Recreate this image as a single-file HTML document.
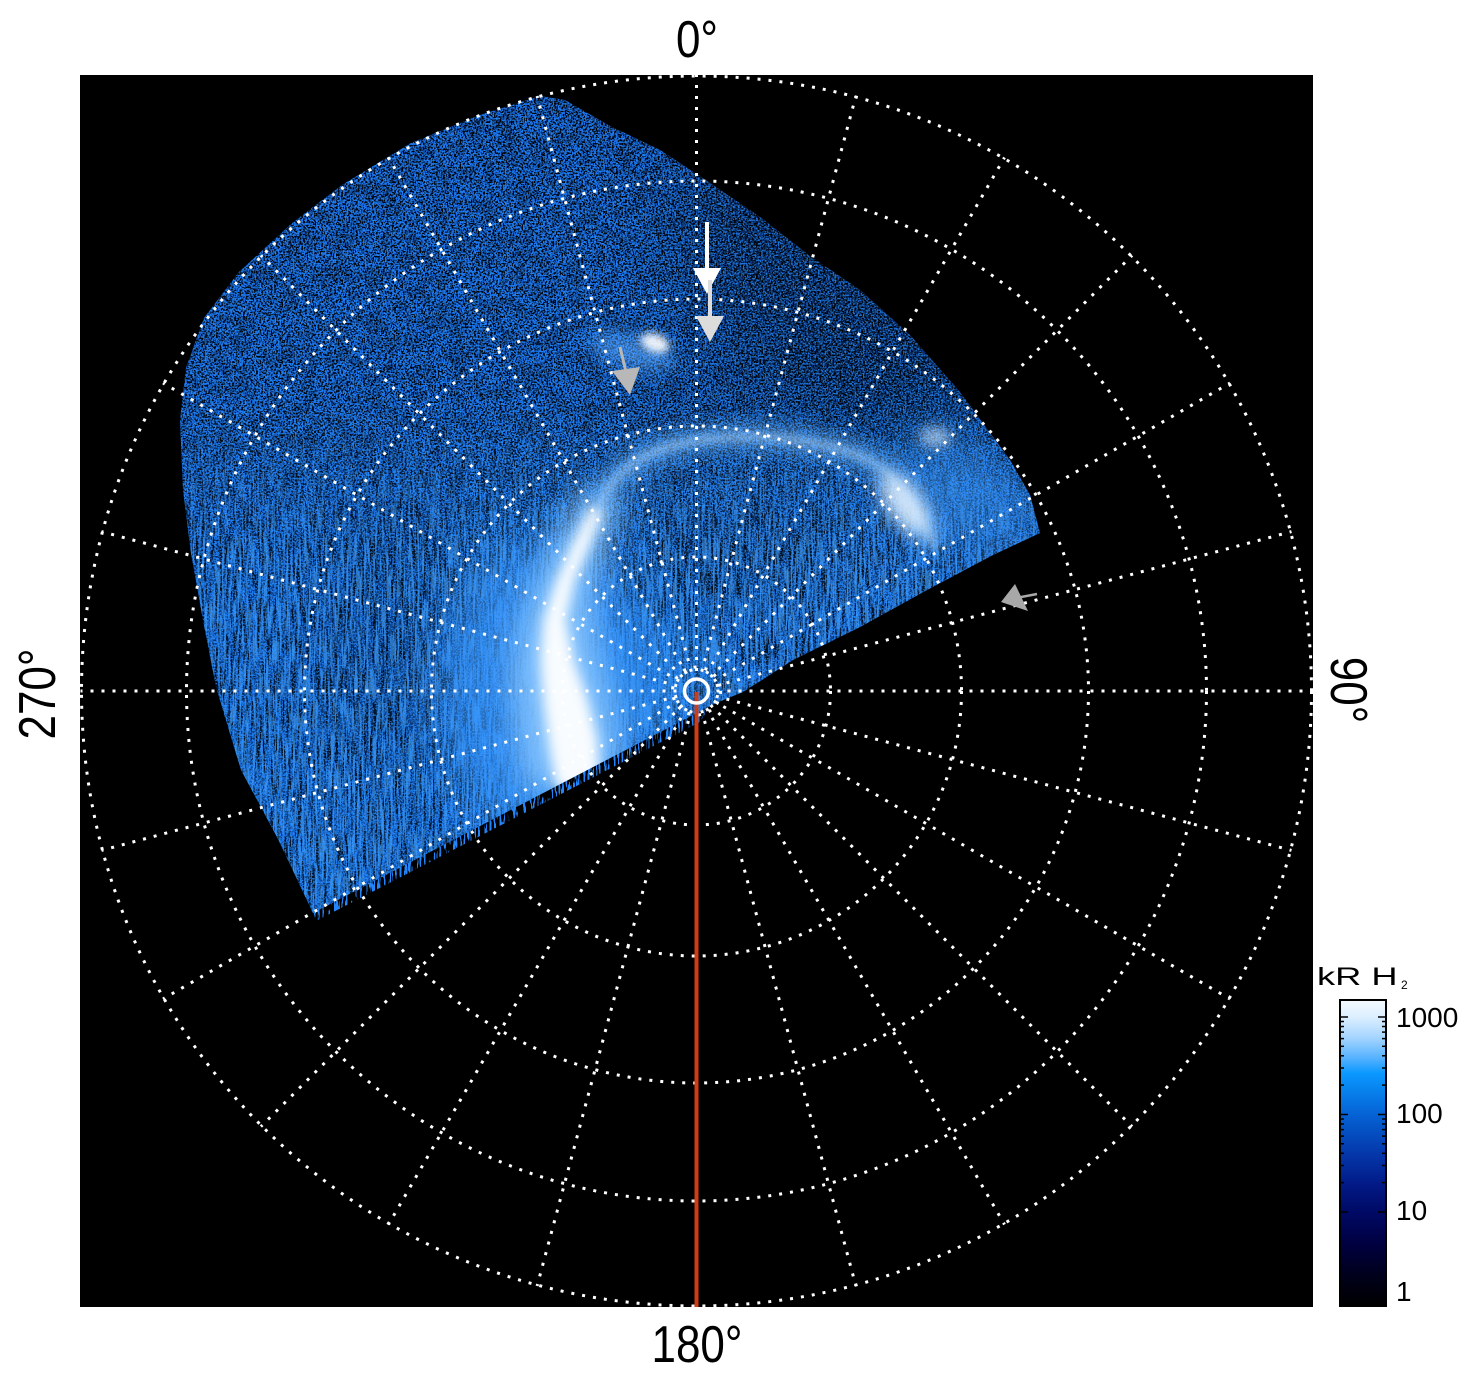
<!DOCTYPE html>
<html>
<head>
<meta charset="utf-8">
<style>
  html,body{margin:0;padding:0;background:#ffffff;}
  svg{display:block;}
  text{font-family:"Liberation Sans", Arial, sans-serif;fill:#000;}
</style>
</head>
<body>
<svg width="1481" height="1384" viewBox="0 0 1481 1384" xmlns="http://www.w3.org/2000/svg">
  <defs>
    <clipPath id="data">
      <path d="M 716 703 L 743 692 L 793 660 L 860 627 L 927 590 L 993 555 L 1040 533 L 1030 495 L 1010 460 L 993 437 L 960 392 L 910 335 L 860 290 L 810 256 L 760 217 L 710 183 L 660 150 L 610 126 L 565 100 L 540 96 L 480 115 L 411 143 L 342 185 L 291 224 L 239 272 L 204 318 L 186 368 L 180 420 L 183 490 L 191 553 L 203 620 L 216 687 L 241 770 L 277 837 L 313 913 L 712 705 Z"/>
    </clipPath>
    <clipPath id="hang">
      <path d="M 712 703 L 313 911 L 316 921 L 700 722 Z"/>
    </clipPath>
    <linearGradient id="baseG" gradientUnits="userSpaceOnUse" x1="0" y1="90" x2="0" y2="920">
      <stop offset="0" stop-color="#1a72ea"/>
      <stop offset="0.5" stop-color="#1c7af0"/>
      <stop offset="1" stop-color="#2084f6"/>
    </linearGradient>
    <linearGradient id="mTopG" gradientUnits="userSpaceOnUse" x1="0" y1="90" x2="0" y2="920">
      <stop offset="0" stop-color="#fff"/>
      <stop offset="0.42" stop-color="#f0f0f0"/>
      <stop offset="0.62" stop-color="#707070"/>
      <stop offset="1" stop-color="#606060"/>
    </linearGradient>
    <linearGradient id="mBotG" gradientUnits="userSpaceOnUse" x1="0" y1="400" x2="0" y2="560">
      <stop offset="0" stop-color="#000"/>
      <stop offset="1" stop-color="#fff"/>
    </linearGradient>
    <mask id="mTop" maskUnits="userSpaceOnUse" x="0" y="0" width="1481" height="1384">
      <rect x="0" y="0" width="1481" height="1384" fill="url(#mTopG)"/>
    </mask>
    <mask id="mBot" maskUnits="userSpaceOnUse" x="0" y="0" width="1481" height="1384">
      <rect x="0" y="0" width="1481" height="1384" fill="url(#mBotG)"/>
    </mask>
    <filter id="fBlack" filterUnits="userSpaceOnUse" x="170" y="85" width="880" height="860" color-interpolation-filters="sRGB">
      <feTurbulence type="fractalNoise" baseFrequency="0.55" numOctaves="1" seed="3"/>
      <feColorMatrix type="matrix" values="0 0 0 0 0  0 0 0 0 0  0 0 0 0 0  -20 0 0 0 10.4"/>
    </filter>
    <filter id="fNavy" filterUnits="userSpaceOnUse" x="170" y="85" width="880" height="860" color-interpolation-filters="sRGB">
      <feTurbulence type="fractalNoise" baseFrequency="0.6" numOctaves="1" seed="21"/>
      <feColorMatrix type="matrix" values="0 0 0 0 0.03  0 0 0 0 0.22  0 0 0 0 0.66  -20 0 0 0 10"/>
    </filter>
    <filter id="fMottle" filterUnits="userSpaceOnUse" x="170" y="85" width="880" height="860" color-interpolation-filters="sRGB">
      <feTurbulence type="fractalNoise" baseFrequency="0.06" numOctaves="2" seed="8"/>
      <feColorMatrix type="matrix" values="0 0 0 0 0  0 0 0 0 0  0 0 0 0 0  -8 0 0 0 4.2"/>
    </filter>
    <filter id="fLight" filterUnits="userSpaceOnUse" x="170" y="85" width="880" height="860" color-interpolation-filters="sRGB">
      <feTurbulence type="fractalNoise" baseFrequency="0.6" numOctaves="1" seed="11"/>
      <feColorMatrix type="matrix" values="0 0 0 0 0.16  0 0 0 0 0.56  0 0 0 0 1  20 0 0 0 -10.6"/>
    </filter>
    <filter id="fStreak" filterUnits="userSpaceOnUse" x="170" y="85" width="880" height="860" color-interpolation-filters="sRGB">
      <feTurbulence type="fractalNoise" baseFrequency="0.45 0.03" numOctaves="2" seed="5"/>
      <feColorMatrix type="matrix" values="0 0 0 0 0  0 0 0 0 0  0 0 0 0 0  -16 0 0 0 7.6"/>
    </filter>
    <filter id="fStreakL" filterUnits="userSpaceOnUse" x="170" y="85" width="880" height="860" color-interpolation-filters="sRGB">
      <feTurbulence type="fractalNoise" baseFrequency="0.45 0.03" numOctaves="2" seed="9"/>
      <feColorMatrix type="matrix" values="0 0 0 0 0.3  0 0 0 0 0.66  0 0 0 0 1  16 0 0 0 -8.4"/>
    </filter>
    <filter id="fHang" filterUnits="userSpaceOnUse" x="300" y="690" width="430" height="260" color-interpolation-filters="sRGB">
      <feTurbulence type="fractalNoise" baseFrequency="0.5 0.05" numOctaves="2" seed="14"/>
      <feColorMatrix type="matrix" values="0 0 0 0 0.14  0 0 0 0 0.52  0 0 0 0 0.98  20 0 0 0 -10.6"/>
    </filter>
    <filter id="b35" x="-60%" y="-60%" width="220%" height="220%"><feGaussianBlur stdDeviation="35"/></filter>
    <filter id="b25" x="-60%" y="-60%" width="220%" height="220%"><feGaussianBlur stdDeviation="25"/></filter>
    <filter id="b14" x="-60%" y="-60%" width="220%" height="220%"><feGaussianBlur stdDeviation="14"/></filter>
    <filter id="b9" x="-60%" y="-60%" width="220%" height="220%"><feGaussianBlur stdDeviation="9"/></filter>
    <filter id="b6" x="-60%" y="-60%" width="220%" height="220%"><feGaussianBlur stdDeviation="6"/></filter>
    <filter id="b4" x="-60%" y="-60%" width="220%" height="220%"><feGaussianBlur stdDeviation="4"/></filter>
    <linearGradient id="cb" x1="0" y1="0" x2="0" y2="1">
      <stop offset="0" stop-color="#f5faff"/>
      <stop offset="0.055" stop-color="#dcefff"/>
      <stop offset="0.12" stop-color="#a8d6ff"/>
      <stop offset="0.19" stop-color="#55b2ff"/>
      <stop offset="0.24" stop-color="#0a98ff"/>
      <stop offset="0.37" stop-color="#0564d6"/>
      <stop offset="0.5" stop-color="#0438ab"/>
      <stop offset="0.6" stop-color="#021a88"/>
      <stop offset="0.69" stop-color="#000a66"/>
      <stop offset="0.8" stop-color="#000040"/>
      <stop offset="0.9" stop-color="#00001c"/>
      <stop offset="1" stop-color="#000000"/>
    </linearGradient>
  </defs>

  <!-- plot background -->
  <rect x="80" y="75" width="1233" height="1232" fill="#000"/>

  <!-- hanging streaks below lower edge -->
  <g clip-path="url(#hang)">
    <rect x="300" y="690" width="430" height="260" fill="#000" filter="url(#fHang)"/>
  </g>

  <!-- data region -->
  <g clip-path="url(#data)">
    <rect x="170" y="85" width="880" height="860" fill="url(#baseG)"/>
    <ellipse cx="700" cy="580" rx="280" ry="150" fill="#3a96fa" opacity="0.35" filter="url(#b35)"/>
    <g filter="url(#b35)">
      <ellipse cx="830" cy="300" rx="190" ry="95" transform="rotate(38 830 300)" fill="#000" opacity="0.55"/>
      <ellipse cx="760" cy="395" rx="150" ry="35" fill="#000" opacity="0.3"/>
      <ellipse cx="730" cy="560" rx="100" ry="50" fill="#000" opacity="0.25"/>
      <ellipse cx="390" cy="650" rx="90" ry="130" fill="#000" opacity="0.25"/>
    </g>
    <rect x="170" y="85" width="880" height="860" fill="#000" filter="url(#fMottle)" mask="url(#mTop)" opacity="0.3"/>
    <rect x="170" y="85" width="880" height="860" fill="#000" filter="url(#fNavy)" opacity="0.5"/>
    <rect x="170" y="85" width="880" height="860" fill="#000" filter="url(#fBlack)" mask="url(#mTop)" opacity="0.95"/>
    <rect x="170" y="85" width="880" height="860" fill="#000" filter="url(#fStreak)" mask="url(#mBot)" opacity="0.75"/>
    <rect x="170" y="85" width="880" height="860" fill="#000" filter="url(#fStreakL)" mask="url(#mBot)" opacity="0.6"/>
    <rect x="170" y="85" width="880" height="860" fill="#000" filter="url(#fLight)" opacity="0.7"/>
    <ellipse cx="545" cy="690" rx="105" ry="150" fill="#3a9aff" opacity="0.7" filter="url(#b25)"/>
    <ellipse cx="650" cy="680" rx="60" ry="60" fill="#3392f7" opacity="0.45" filter="url(#b25)"/>
    <ellipse cx="965" cy="495" rx="85" ry="50" transform="rotate(35 965 495)" fill="#3d98f8" opacity="0.5" filter="url(#b25)"/>
    <polygon points="580,490 560,530 535,580 518,630 512,680 516,730 526,790 612,790 620,740 610,690 597,640 592,590 606,545 622,500" fill="#8cc8ff" opacity="0.85" filter="url(#b14)"/>
    <polygon points="592,505 574,540 556,580 543,620 540,660 543,700 548,740 556,790 600,790 598,740 588,700 574,660 566,620 575,580 592,540 604,508" fill="#ffffff" opacity="0.95" filter="url(#b6)"/>
    <path d="M 600 505 C 612 472, 645 448, 700 440 C 760 432, 830 440, 872 462 C 900 478, 918 510, 935 548" fill="none" stroke="#6cb6ff" stroke-width="26" opacity="0.55" filter="url(#b9)"/>
    <path d="M 600 505 C 612 472, 645 448, 700 440 C 760 432, 830 440, 872 462 C 900 478, 918 510, 935 548" fill="none" stroke="#b8dcff" stroke-width="7" opacity="0.5" filter="url(#b4)"/>
    <ellipse cx="905" cy="505" rx="16" ry="36" transform="rotate(-35 905 505)" fill="#e8f4ff" opacity="0.85" filter="url(#b9)"/>
    <ellipse cx="935" cy="437" rx="16" ry="10" fill="#d8ecff" opacity="0.6" filter="url(#b6)"/>
    <ellipse cx="632" cy="352" rx="45" ry="16" transform="rotate(15 632 352)" fill="#5aa8ff" opacity="0.6" filter="url(#b9)"/>
    <ellipse cx="655" cy="343" rx="15" ry="9" transform="rotate(20 655 343)" fill="#fff" opacity="0.9" filter="url(#b4)"/>
  </g>

  <!-- grid -->
  <g fill="none" stroke="#ffffff" stroke-width="3" stroke-dasharray="3 8">
    <circle cx="696.5" cy="691" r="24"/>
    <circle cx="696.5" cy="691" r="134"/>
    <circle cx="696.5" cy="691" r="265"/>
    <circle cx="696.5" cy="691" r="392"/>
    <circle cx="696.5" cy="691" r="510"/>
    <circle cx="696.5" cy="691" r="615"/>
    <line x1="696.5" y1="671" x2="696.5" y2="75"/>
    <line x1="701.7" y1="671.7" x2="855.9" y2="96.0"/>
    <line x1="706.5" y1="673.7" x2="1004.5" y2="157.5"/>
    <line x1="710.6" y1="676.9" x2="1132.1" y2="255.4"/>
    <line x1="713.8" y1="681.0" x2="1230.0" y2="383.0"/>
    <line x1="715.8" y1="685.8" x2="1291.5" y2="531.6"/>
    <line x1="716.5" y1="691" x2="1312.5" y2="691"/>
    <line x1="715.8" y1="696.2" x2="1291.5" y2="850.4"/>
    <line x1="713.8" y1="701.0" x2="1230.0" y2="999.0"/>
    <line x1="710.6" y1="705.1" x2="1132.1" y2="1126.6"/>
    <line x1="706.5" y1="708.3" x2="1004.5" y2="1224.5"/>
    <line x1="701.7" y1="710.3" x2="855.9" y2="1286.0"/>
    <line x1="691.3" y1="710.3" x2="537.1" y2="1286.0"/>
    <line x1="686.5" y1="708.3" x2="388.5" y2="1224.5"/>
    <line x1="682.4" y1="705.1" x2="260.9" y2="1126.6"/>
    <line x1="679.2" y1="701.0" x2="163.0" y2="999.0"/>
    <line x1="677.2" y1="696.2" x2="101.5" y2="850.4"/>
    <line x1="676.5" y1="691" x2="80.5" y2="691"/>
    <line x1="677.2" y1="685.8" x2="101.5" y2="531.6"/>
    <line x1="679.2" y1="681.0" x2="163.0" y2="383.0"/>
    <line x1="682.4" y1="676.9" x2="260.9" y2="255.4"/>
    <line x1="686.5" y1="673.7" x2="388.5" y2="157.5"/>
    <line x1="691.3" y1="671.7" x2="537.1" y2="96.0"/>
  </g>

  <!-- red line and center ring -->
  <line x1="696.5" y1="692" x2="696.5" y2="1307" stroke="#d03c14" stroke-width="4"/>
  <circle cx="696.5" cy="691" r="12" fill="none" stroke="#ffffff" stroke-width="3.5"/>

  <!-- arrows -->
  <line x1="707" y1="222" x2="707" y2="272" stroke="#ffffff" stroke-width="4"/>
  <polygon points="693,268 721,268 707,294" fill="#ffffff"/>
  <line x1="710" y1="280" x2="710" y2="320" stroke="#dcdcdc" stroke-width="4"/>
  <polygon points="696,316 724,316 710,342" fill="#dcdcdc"/>
  <line x1="620" y1="347" x2="626" y2="372" stroke="#b8b8b8" stroke-width="3"/>
  <polygon points="612,371 640,367 630,395" fill="#b8b8b8"/>
  <line x1="1037" y1="594" x2="1016" y2="598" stroke="#a8a8a8" stroke-width="2.5"/>
  <polygon points="1015,584 1028,611 1001,602" fill="#a8a8a8"/>

  <!-- axis labels -->
  <text x="0" y="0" font-size="44" text-anchor="middle" transform="translate(697,57) scale(1,1.17)">0°</text>
  <text x="0" y="0" font-size="44" text-anchor="middle" transform="translate(697,1362) scale(1,1.17)">180°</text>
  <text x="0" y="0" font-size="44" text-anchor="middle" transform="translate(55,694) rotate(-90) scale(1,1.17)">270°</text>
  <text x="0" y="0" font-size="44" text-anchor="middle" transform="translate(1331,690) rotate(90) scale(1,1.17)">90°</text>

  <!-- colorbar -->
  <text x="0" y="0" font-size="25" transform="translate(1317,985) scale(1.45,1)">kR H</text>
  <text x="1401" y="989" font-size="12">2</text>
  <rect x="1340" y="1000" width="46" height="306" fill="url(#cb)" stroke="#000" stroke-width="2"/>
  <g stroke="#000" stroke-width="1.5">
    <line x1="1340" y1="1017" x2="1348" y2="1017"/><line x1="1386" y1="1017" x2="1378" y2="1017"/>
    <line x1="1340" y1="1114.5" x2="1348" y2="1114.5"/><line x1="1386" y1="1114.5" x2="1378" y2="1114.5"/>
    <line x1="1340" y1="1212" x2="1348" y2="1212"/><line x1="1386" y1="1212" x2="1378" y2="1212"/>
    <line x1="1340" y1="1085.1" x2="1344" y2="1085.1"/><line x1="1386" y1="1085.1" x2="1382" y2="1085.1"/>
    <line x1="1340" y1="1068" x2="1344" y2="1068"/><line x1="1386" y1="1068" x2="1382" y2="1068"/>
    <line x1="1340" y1="1055.8" x2="1344" y2="1055.8"/><line x1="1386" y1="1055.8" x2="1382" y2="1055.8"/>
    <line x1="1340" y1="1046.3" x2="1344" y2="1046.3"/><line x1="1386" y1="1046.3" x2="1382" y2="1046.3"/>
    <line x1="1340" y1="1038.6" x2="1344" y2="1038.6"/><line x1="1386" y1="1038.6" x2="1382" y2="1038.6"/>
    <line x1="1340" y1="1032.1" x2="1344" y2="1032.1"/><line x1="1386" y1="1032.1" x2="1382" y2="1032.1"/>
    <line x1="1340" y1="1026.5" x2="1344" y2="1026.5"/><line x1="1386" y1="1026.5" x2="1382" y2="1026.5"/>
    <line x1="1340" y1="1021.5" x2="1344" y2="1021.5"/><line x1="1386" y1="1021.5" x2="1382" y2="1021.5"/>
    <line x1="1340" y1="1182.6" x2="1344" y2="1182.6"/><line x1="1386" y1="1182.6" x2="1382" y2="1182.6"/>
    <line x1="1340" y1="1165.5" x2="1344" y2="1165.5"/><line x1="1386" y1="1165.5" x2="1382" y2="1165.5"/>
    <line x1="1340" y1="1153.3" x2="1344" y2="1153.3"/><line x1="1386" y1="1153.3" x2="1382" y2="1153.3"/>
    <line x1="1340" y1="1143.8" x2="1344" y2="1143.8"/><line x1="1386" y1="1143.8" x2="1382" y2="1143.8"/>
    <line x1="1340" y1="1136.1" x2="1344" y2="1136.1"/><line x1="1386" y1="1136.1" x2="1382" y2="1136.1"/>
    <line x1="1340" y1="1129.6" x2="1344" y2="1129.6"/><line x1="1386" y1="1129.6" x2="1382" y2="1129.6"/>
    <line x1="1340" y1="1124" x2="1344" y2="1124"/><line x1="1386" y1="1124" x2="1382" y2="1124"/>
    <line x1="1340" y1="1119" x2="1344" y2="1119"/><line x1="1386" y1="1119" x2="1382" y2="1119"/>
  </g>
  <text x="1396" y="1027" font-size="28">1000</text>
  <text x="1396" y="1123" font-size="28">100</text>
  <text x="1396" y="1220" font-size="28">10</text>
  <text x="1396" y="1301" font-size="28">1</text>
</svg>
</body>
</html>
